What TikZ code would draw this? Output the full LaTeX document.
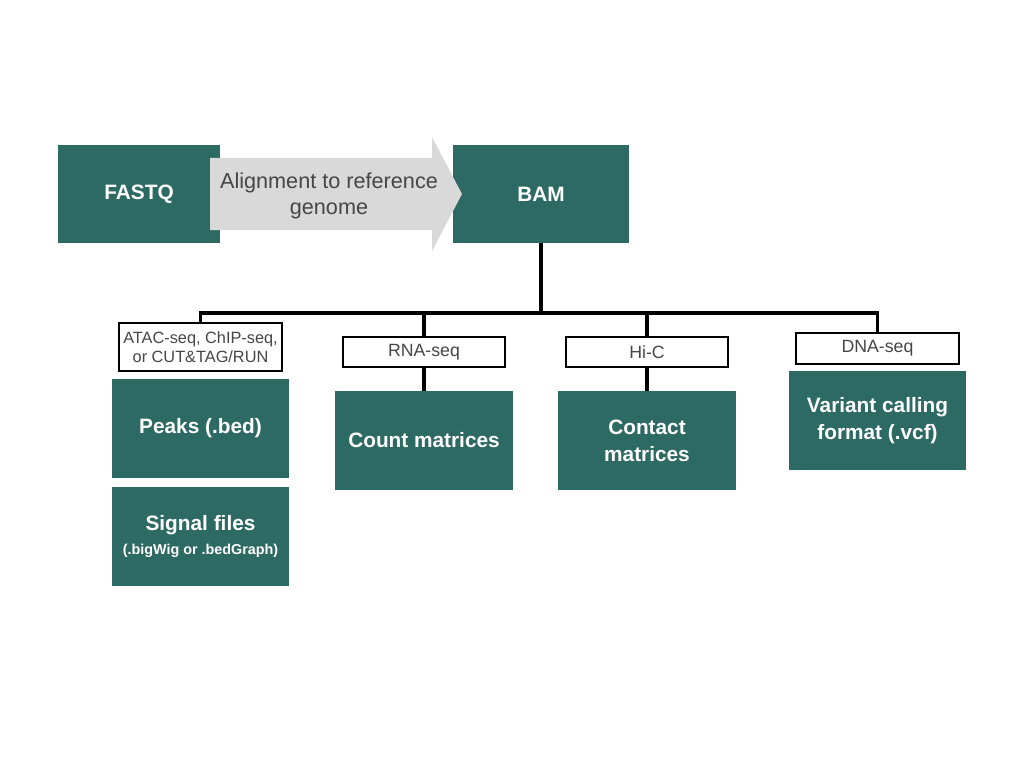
\documentclass[tikz,border=0pt]{standalone}
\usepackage{fontspec}
\setmainfont{Liberation Sans}
\usepackage{xcolor}
\usetikzlibrary{positioning, calc}

\definecolor{tealbox}{RGB}{45,106,99}
\definecolor{arrowgray}{RGB}{217,217,217}
\definecolor{labeltext}{RGB}{70,70,70}

\begin{document}
\begin{tikzpicture}[x=0.025cm,y=-0.025cm,
	filebox/.style={rectangle,fill=tealbox,text=white,minimum width=4.425cm,
		minimum height=2.475cm,inner sep=0pt,align=center,
		font=\bfseries\fontsize{14.8}{19}\selectfont},
	assay/.style={rectangle,draw=black,line width=1.4pt,fill=white,text=labeltext,
		minimum width=4.05cm,minimum height=0.75cm,inner sep=0pt,align=center,
		font=\fontsize{12.6}{14}\selectfont},
	bus/.style={line width=2.5pt},
	]
	\useasboundingbox (0,0) rectangle (1024,768);

	% Alignment step
	\node[filebox,minimum width=4.05cm,minimum height=2.45cm] (fastq) at (139,194) {FASTQ};
	\node[filebox,minimum width=4.4cm,minimum height=2.45cm] (bam) at (541,194) {BAM};
	\fill[arrowgray] (210,158) -- (432,158) -- (432,137) -- (462,194)
		-- (432,251) -- (432,230) -- (210,230) -- cycle;
	\node[text=labeltext,align=center,font=\fontsize{15.4}{18}\selectfont] (aligntxt)
		at (329,196) {Alignment to reference\\genome};

	% Assay labels
	\node[assay,minimum width=4.075cm,minimum height=1.2cm,font=\fontsize{11.6}{13.5}\selectfont]
		(atac) at (200.5,347) {ATAC-seq, ChIP-seq,\\or CUT\&TAG/RUN};
	\node[assay] (rna) at (424,352) {RNA-seq};
	\node[assay] (hic) at (647,352) {Hi-C};
	\node[assay,minimum width=4.075cm,minimum height=0.775cm] (dna) at (877.5,348.5) {DNA-seq};

	% Output files
	\node[filebox] (peaks) at (200.5,428.5) {Peaks (.bed)};
	\node[filebox] (signal) at (200.5,536.5)
		{Signal files\\[-2pt]{\fontsize{10.2}{12}\selectfont (.bigWig or .bedGraph)}};
	\node[filebox] (counts) at (424,440.5) {Count matrices};
	\node[filebox] (contact) at (647,440.5) {Contact\\matrices};
	\node[filebox] (variant) at (877.5,420.5) {Variant calling\\format (.vcf)};

	% Tree of connectors
	\coordinate (split) at (541,313);
	\draw[bus] (bam.south) -- (split);
	\draw[bus] (atac.north) -- (atac.north |- split) -- (dna.north |- split) -- (dna.north);
	\draw[bus] (rna.north) -- (rna.north |- split);
	\draw[bus] (hic.north) -- (hic.north |- split);
	\draw[bus] (rna.south) -- (counts.north);
	\draw[bus] (hic.south) -- (contact.north);
\end{tikzpicture}
\end{document}
